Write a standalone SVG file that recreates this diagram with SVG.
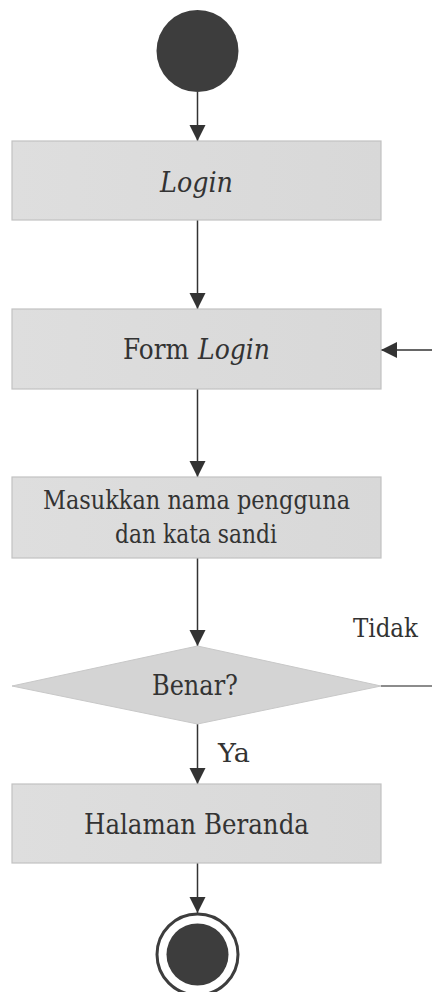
<svg xmlns="http://www.w3.org/2000/svg" width="432" height="992" viewBox="0 0 432 992">
<style>
.box{fill:url(#g);stroke:#c2c2c2;stroke-width:1.2}
.t{font-family:'DejaVu Serif',serif;fill:#333;text-anchor:middle}
.s{font-family:'DejaVu Serif',serif;fill:#333}
.c{stroke:#333;stroke-width:1.5;fill:none}
</style>
<defs>
<linearGradient id="g" x1="0" y1="0" x2="1" y2="0">
<stop offset="0" stop-color="#dedede"/>
<stop offset="1" stop-color="#d8d8d8"/>
</linearGradient>
<marker id="a" markerUnits="userSpaceOnUse" markerWidth="17" markerHeight="17" refX="16" refY="8" orient="auto">
<path d="M0,0 L16,8 L0,16 Z" fill="#333"/>
</marker>
</defs>
<rect width="432" height="992" fill="#fff"/>
<g id="connectors">
<line class="c" x1="197.5" y1="92" x2="197.5" y2="141" marker-end="url(#a)"/>
<line class="c" x1="197.5" y1="220" x2="197.5" y2="309" marker-end="url(#a)"/>
<line class="c" x1="197.5" y1="389" x2="197.5" y2="477" marker-end="url(#a)"/>
<line class="c" x1="197.5" y1="558" x2="197.5" y2="646" marker-end="url(#a)"/>
<line class="c" x1="197.5" y1="724" x2="197.5" y2="784" marker-end="url(#a)"/>
<line class="c" x1="197.5" y1="863" x2="197.5" y2="913" marker-end="url(#a)"/>
<line class="c" x1="432" y1="350" x2="381" y2="350" marker-end="url(#a)"/>
<line x1="381" y1="686" x2="432" y2="686" stroke="#666" stroke-width="1.3"/>
<text class="t" x="385.5" y="637" font-size="25.5" textLength="65" lengthAdjust="spacingAndGlyphs">Tidak</text>
<text class="s" x="218" y="762" font-size="25.5" textLength="32" lengthAdjust="spacingAndGlyphs">Ya</text>
</g>
<g id="start">
<circle cx="197.5" cy="51" r="41" fill="#3d3d3d"/>
</g>
<g id="login">
<rect class="box" x="12" y="141" width="369" height="79"/>
<text class="t" x="196.5" y="191.5" font-size="28" font-style="italic" textLength="73" lengthAdjust="spacingAndGlyphs">Login</text>
</g>
<g id="formlogin">
<rect class="box" x="12" y="309" width="369" height="80"/>
<text class="s" x="123" y="359" font-size="28" textLength="66" lengthAdjust="spacingAndGlyphs">Form</text>
<text class="s" x="198" y="359" font-size="28" font-style="italic" textLength="72" lengthAdjust="spacingAndGlyphs">Login</text>
</g>
<g id="masukkan">
<rect class="box" x="12" y="477" width="369" height="81"/>
<text class="t" x="196.5" y="509" font-size="26" textLength="307" lengthAdjust="spacingAndGlyphs">Masukkan nama pengguna</text>
<text class="t" x="196" y="543" font-size="26" textLength="162" lengthAdjust="spacingAndGlyphs">dan kata sandi</text>
</g>
<g id="benar">
<polygon points="197.5,646 381,686 197.5,724 12,686" fill="#d4d4d4" stroke="#c8c8c8" stroke-width="1"/>
<text class="t" x="195" y="695" font-size="27.5" textLength="86" lengthAdjust="spacingAndGlyphs">Benar?</text>
</g>
<g id="beranda">
<rect class="box" x="12" y="784" width="369" height="79"/>
<text class="t" x="196.5" y="834" font-size="28.5" textLength="225" lengthAdjust="spacingAndGlyphs">Halaman Beranda</text>
</g>
<g id="end">
<circle cx="197.5" cy="954.5" r="40.5" fill="#fff" stroke="#3d3d3d" stroke-width="3"/>
<circle cx="197.5" cy="954.5" r="31" fill="#3d3d3d"/>
</g>
</svg>
